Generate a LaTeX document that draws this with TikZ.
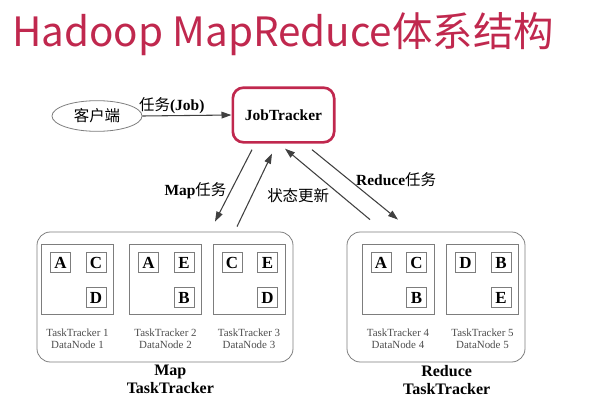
\documentclass[tikz,border=0pt]{standalone}
\usepackage{fontspec}
\setmainfont{Liberation Serif}
\newfontfamily\cjk{Noto Sans CJK SC}
\usetikzlibrary{arrows.meta,positioning,fit,calc,shapes.geometric}
\definecolor{hdred}{RGB}{192,40,78}
\definecolor{linegray}{RGB}{64,64,64}
\definecolor{boxgray}{RGB}{125,125,125}
\newcommand\zh[1]{{\cjk #1}}
\tikzset{
  arr/.style={draw=linegray, line width=0.8pt, -{Triangle[length=7.5pt,width=5pt]}},
  lbl/.style={font=\fontsize{11.6}{13}\selectfont, inner sep=2pt},
  client/.style={ellipse, draw=boxgray, line width=0.6pt, minimum width=67.5pt,
    minimum height=23pt, inner sep=0pt, font=\fontsize{11.6}{13}\selectfont},
  jobbox/.style={draw=hdred, line width=2pt, rounded corners=8pt, minimum width=76pt,
    minimum height=41pt, font=\bfseries\fontsize{11.6}{13}\selectfont},
  group/.style={draw=boxgray, line width=0.6pt, rounded corners=10pt, inner sep=0pt},
  ttbox/.style={draw=boxgray, line width=0.6pt, minimum width=54pt, minimum height=52.5pt, inner sep=0pt},
  blk/.style={draw=boxgray, line width=0.6pt, minimum size=15pt, inner sep=0pt,
    font=\bfseries\fontsize{12.7}{13}\selectfont},
  ttlbl/.style={font=\fontsize{8.2}{9.2}\selectfont, text=black!70, align=center, inner sep=0pt},
  grplbl/.style={font=\bfseries\fontsize{12}{13.5}\selectfont, align=center, inner sep=1pt}
}
\begin{document}
\begin{tikzpicture}[x=0.75pt,y=-0.75pt]
  \useasboundingbox (0,0) rectangle (600,400);
  % Title
  \node[anchor=base west, text=hdred, inner sep=0pt,
    font=\cjk\fontsize{30.3}{34}\selectfont] (title) at (12,46) {Hadoop MapReduce体系结构};
  % Client and JobTracker
  \node[client] (cl) at (97,116) {\zh{客户端}};
  \node[jobbox] (jt) at (283.5,115) {JobTracker};
  \draw[arr] (cl.east) -- node[lbl, pos=0.33, above=-1pt] {\zh{任务}\textbf{(Job)}} (jt.west);
  % TaskTracker groups
  \node[group, fit={(37,232) (293,362)}] (map) {};
  \node[group, fit={(347,232) (525,362)}] (red) {};
  \foreach \n/\cx/\a/\b/\c in {1/77.5/A/C/D, 2/165.5/A/E/B, 3/249/C/E/D, 4/398/A/C/B, 5/482.5/D/B/E} {
    \node[ttbox] (tt\n) at (\cx,279.5) {};
    \node[blk] (tt\n a) at ([shift={(-17,-17)}]tt\n.center) {\a};
    \node[blk] (tt\n b) at ([shift={(18.5,-17)}]tt\n.center) {\b};
    \node[blk] (tt\n c) at ([shift={(18.5,18)}]tt\n.center) {\c};
    \node[ttlbl, below=10pt of tt\n] (lb\n) {TaskTracker \n\\DataNode \n};
  }
  \node[grplbl, below=1pt of map, xshift=4pt] (maplbl) {Map\\TaskTracker};
  \node[grplbl, below=1pt of red, xshift=8pt] (redlbl) {Reduce\\TaskTracker};
  % Task arrows
  \draw[arr] ($(jt.south)+(-31.5,6)$) -- node[lbl, pos=0.57, left=1pt] {\textbf{Map}\zh{任务}}
    ($(map.north)+(50,-10)$);
  \draw[arr] ($(map.north)+(72,-5)$) -- node[lbl, pos=0.43, right=9pt] {\zh{状态更新}}
    ($(jt.south)+(-11.5,10)$);
  \draw[arr] ($(red.north)+(-66,-12)$) -- ($(jt.south)+(1.5,5)$);
  \draw[arr] ($(jt.south)+(28.5,6)$) -- node[lbl, pos=0.43, right=3pt] {\textbf{Reduce}\zh{任务}}
    ($(red.north)+(-38,-12)$);
\end{tikzpicture}
\end{document}
